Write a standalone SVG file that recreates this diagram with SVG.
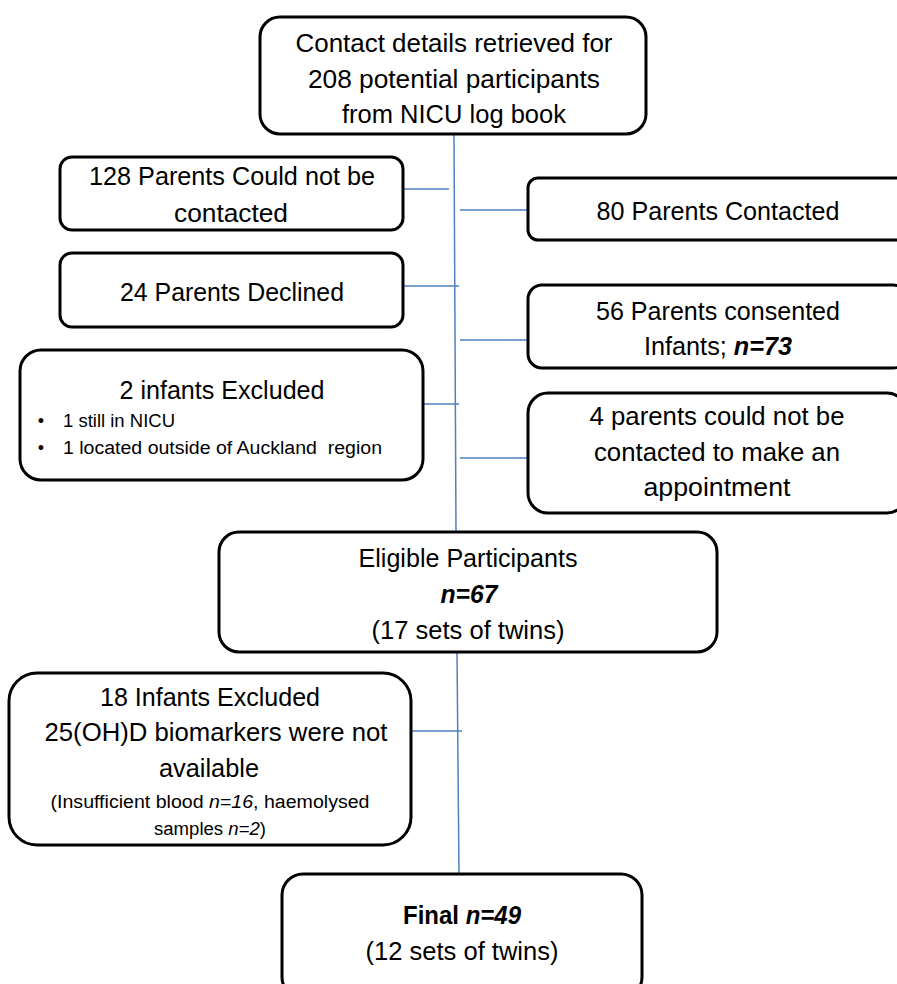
<svg xmlns="http://www.w3.org/2000/svg" width="897" height="984" viewBox="0 0 897 984">
<style>
.box{fill:#fff;stroke:#000;stroke-width:3}
.t{font-family:'Liberation Sans',Arial,sans-serif;font-size:25px;text-anchor:middle;fill:#000}
.s{font-size:18px}
.l{text-anchor:start}
.c{stroke:#4F81BD;stroke-width:1.5;fill:none}
.bi{font-weight:bold;font-style:italic}
.b{font-weight:bold}
.i{font-style:italic}
</style>
<rect width="897" height="984" fill="#fff"/>
<g id="connectors">
<line class="c" x1="454" y1="134" x2="456" y2="532"/>
<line class="c" x1="457" y1="652" x2="459" y2="874"/>
<line class="c" x1="403" y1="189" x2="449" y2="189"/>
<line class="c" x1="460" y1="210" x2="528" y2="210"/>
<line class="c" x1="403" y1="286" x2="459" y2="286"/>
<line class="c" x1="460" y1="340" x2="528" y2="340"/>
<line class="c" x1="423" y1="404" x2="459" y2="404"/>
<line class="c" x1="460" y1="458" x2="528" y2="458"/>
<line class="c" x1="411" y1="731" x2="462" y2="731"/>
</g>
<g id="n-start">
<rect class="box" x="260" y="17" width="386" height="117" rx="20"/>
<text class="t" x="454" y="52" textLength="317" lengthAdjust="spacingAndGlyphs">Contact details retrieved for</text>
<text class="t" x="454" y="88" textLength="292" lengthAdjust="spacingAndGlyphs">208 potential participants</text>
<text class="t" x="454" y="123" textLength="224" lengthAdjust="spacingAndGlyphs">from NICU log book</text>
</g>
<g id="n-not-contacted">
<rect class="box" x="60" y="157" width="343" height="73" rx="12"/>
<text class="t" x="232" y="185" textLength="286" lengthAdjust="spacingAndGlyphs">128 Parents Could not be</text>
<text class="t" x="231" y="222" textLength="114" lengthAdjust="spacingAndGlyphs">contacted</text>
</g>
<g id="n-contacted">
<rect class="box" x="528" y="178" width="379" height="62" rx="10"/>
<text class="t" x="718" y="220" textLength="243" lengthAdjust="spacingAndGlyphs">80 Parents Contacted</text>
</g>
<g id="n-declined">
<rect class="box" x="60" y="253" width="343" height="74" rx="12"/>
<text class="t" x="232" y="301" textLength="224" lengthAdjust="spacingAndGlyphs">24 Parents Declined</text>
</g>
<g id="n-consented">
<rect class="box" x="528" y="285" width="379" height="83" rx="14"/>
<text class="t" x="718" y="320" textLength="244" lengthAdjust="spacingAndGlyphs">56 Parents consented</text>
<text class="t" x="718" y="355" textLength="148" lengthAdjust="spacingAndGlyphs">Infants; <tspan class="bi">n=73</tspan></text>
</g>
<g id="n-excluded2">
<rect class="box" x="20" y="350" width="403" height="130" rx="21"/>
<text class="t" x="222" y="399" textLength="205" lengthAdjust="spacingAndGlyphs">2 infants Excluded</text>
<text class="t s" x="41" y="427">•</text>
<text class="t s l" x="63" y="427" textLength="112" lengthAdjust="spacingAndGlyphs">1 still in NICU</text>
<text class="t s" x="41" y="454">•</text>
<text class="t s l" x="63" y="454" textLength="319" lengthAdjust="spacingAndGlyphs" xml:space="preserve">1 located outside of Auckland  region</text>
</g>
<g id="n-no-appointment">
<rect class="box" x="528" y="393" width="379" height="120" rx="20"/>
<text class="t" x="717" y="425" textLength="255" lengthAdjust="spacingAndGlyphs">4 parents could not be</text>
<text class="t" x="717" y="461" textLength="246" lengthAdjust="spacingAndGlyphs">contacted to make an</text>
<text class="t" x="717" y="496" textLength="147" lengthAdjust="spacingAndGlyphs">appointment</text>
</g>
<g id="n-eligible">
<rect class="box" x="219" y="532" width="498" height="120" rx="20"/>
<text class="t" x="468" y="567" textLength="219" lengthAdjust="spacingAndGlyphs">Eligible Participants</text>
<text class="t bi" x="469" y="603" textLength="57" lengthAdjust="spacingAndGlyphs">n=67</text>
<text class="t" x="468" y="639" textLength="193" lengthAdjust="spacingAndGlyphs">(17 sets of twins)</text>
</g>
<g id="n-excluded18">
<rect class="box" x="9" y="673" width="402" height="172" rx="28"/>
<text class="t" x="210" y="706" textLength="220" lengthAdjust="spacingAndGlyphs">18 Infants Excluded</text>
<text class="t" x="216" y="741" textLength="343" lengthAdjust="spacingAndGlyphs">25(OH)D biomarkers were not</text>
<text class="t" x="209" y="777" textLength="100" lengthAdjust="spacingAndGlyphs">available</text>
<text class="t s" x="210" y="808" textLength="319" lengthAdjust="spacingAndGlyphs">(Insufficient blood <tspan class="i">n=16</tspan>, haemolysed</text>
<text class="t s" x="210" y="835" textLength="112" lengthAdjust="spacingAndGlyphs">samples <tspan class="i">n=2</tspan>)</text>
</g>
<g id="n-final">
<rect class="box" x="282" y="874" width="360" height="124" rx="21"/>
<text class="t" x="462" y="924" textLength="118" lengthAdjust="spacingAndGlyphs"><tspan class="b">Final </tspan><tspan class="bi">n=49</tspan></text>
<text class="t" x="462" y="960" textLength="193" lengthAdjust="spacingAndGlyphs">(12 sets of twins)</text>
</g>
</svg>
